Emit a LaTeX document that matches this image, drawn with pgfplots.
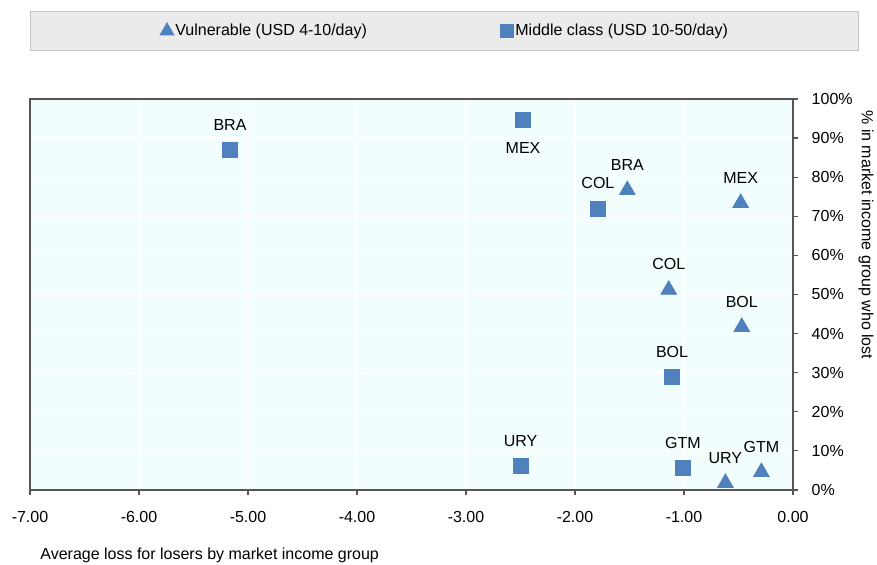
\documentclass[border=0pt]{standalone}
\usepackage{pgfplots}
\pgfplotsset{compat=1.18}
\usepackage{fontspec}
\setmainfont{Liberation Sans}
\definecolor{mk}{HTML}{4F81BD}
\definecolor{bg}{HTML}{F2FDFD}
\definecolor{legfill}{HTML}{EBEBEB}
\definecolor{legdraw}{HTML}{C4C4C4}
\definecolor{frame}{HTML}{555555}
\begin{document}
\fontsize{8pt}{9.6pt}\selectfont
\begin{tikzpicture}[x=0.5pt,y=0.5pt]
% whole picture in reference pixels (877 x 565), y measured from the bottom
\path[use as bounding box] (0,0) rectangle (877,565);
\draw[legdraw, fill=legfill] (30,554) rectangle (858,515);
\begin{axis}[
    at={(15pt,37.5pt)}, anchor=south west,
    scale only axis, width=381.5pt, height=195.5pt,
    xmin=-7, xmax=0, ymin=0, ymax=100,
    xtick={-7,-6,...,0}, ytick={0,10,...,100},
    xtick pos=bottom, ytick pos=right, yticklabel pos=right,
    tick align=outside, major tick length=2.5pt,
    tick style={frame, line width=0.6pt},
    axis line style={frame, line width=0.7pt},
    axis background/.style={fill=bg},
    grid=major, major grid style={white, line width=0.6pt},
    /pgf/number format/assume math mode=true,
    xticklabel style={/pgf/number format/fixed, /pgf/number format/fixed zerofill,
        /pgf/number format/precision=2, yshift=-5.5pt},
    yticklabel={\pgfmathprintnumber{\tick}\%},
    yticklabel style={anchor=west, xshift=4pt},
    point meta=explicit symbolic,
    nodes near coords,
    nodes near coords style={font=\fontsize{8pt}{9.6pt}\selectfont, anchor=south, yshift=7pt, black},
]
\addplot[only marks, mark=triangle*, mark size=4.5pt, color=mk] coordinates {
    (-1.52,76.7) [BRA]
    (-0.48,73.4) [MEX]
    (-1.14,51.2) [COL]
    (-0.47,41.7) [BOL]
    (-0.62,1.8) [URY]
    (-0.29,4.6) [GTM]
};
\addplot[only marks, mark=square*, mark size=3.8pt, color=mk] coordinates {
    (-5.165,87.0) [BRA]
    (-1.79,71.9) [COL]
    (-1.11,28.9) [BOL]
    (-2.50,6.1) [URY]
    (-1.01,5.6) [GTM]
};
\addplot[only marks, mark=square*, mark size=3.8pt, color=mk,
    nodes near coords style={anchor=north, yshift=-15.5pt}] coordinates {
    (-2.477,94.6) [MEX]
};
\end{axis}
% legend entries
\begin{axis}[
    at={(15pt,267pt)}, anchor=west,
    scale only axis, width=414pt, height=10pt,
    xmin=0, xmax=828, ymin=0, ymax=1,
    hide axis, clip=false,
]
\addplot[only marks, mark=triangle*, mark size=4pt, color=mk] coordinates {(137,0.5)};
\addplot[only marks, mark=square*, mark size=3.3pt, color=mk] coordinates {(477,0.5)};
\end{axis}
\node[anchor=west, inner sep=0pt] at (175,534) {Vulnerable (USD 4-10/day)};
\node[anchor=west, inner sep=0pt] at (515,534) {Middle class (USD 10-50/day)};
\node[anchor=west, inner sep=0pt] at (40,10) {Average loss for losers by market income group};
\node[anchor=west, rotate=-90, inner sep=0pt] at (866,455) {\% in market income group who lost};
\end{tikzpicture}
\end{document}
